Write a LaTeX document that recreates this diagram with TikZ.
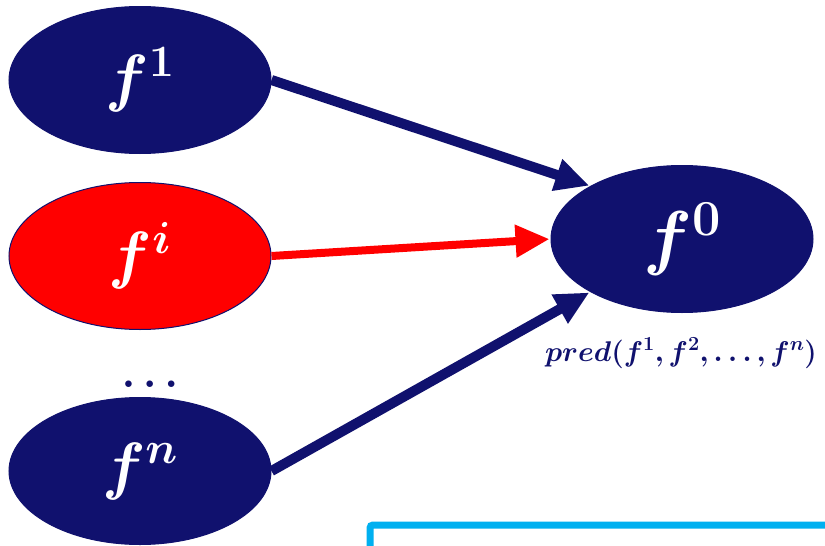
\documentclass[tikz,border=0pt]{standalone}
\usepackage{fix-cm}
\usepackage{bm}
\usetikzlibrary{shapes.geometric,arrows.meta}
\definecolor{navy}{RGB}{16,17,110}
\definecolor{skyline}{RGB}{0,176,240}
\tikzset{
  feat/.style={ellipse,fill=navy,draw=navy,line width=1pt,minimum width=262pt,minimum height=147pt,inner sep=0pt,text=white,font=\fontsize{64}{66}\selectfont},
  link/.style={navy,line width=10pt,-{Triangle[length=34pt,width=31pt]},shorten >=1pt}
}
\begin{document}
\begin{tikzpicture}[x=1pt,y=-1pt]
\clip(0,0)rectangle(825,546);
\fill[white](0,0)rectangle(825,546);
\node[feat](f1)at(140,80){$\bm{f^1}$};
\node[feat,fill=red](fi)at(140,256){$\bm{f^i}$};
\node[feat](fn)at(140,471){$\bm{f^n}$};
\node[feat,font=\fontsize{72}{74}\selectfont](f0)at(682,239){$\bm{f^0}$};
\node[navy,font=\fontsize{28.5}{30}\selectfont](pred)at(681,353){$\bm{pred(f^1,f^2,\ldots,f^n)}$};
\node[navy,font=\fontsize{42}{42}\selectfont](dots)at(150,384){$\bm{\ldots}$};
\draw[link](f1.east)--(f0.150);
\draw[link,red,line width=8pt](fi.east)--(f0.west);
\draw[link](fn.east)--(f0.210);
\draw[skyline,line width=7pt,rounded corners=3pt](370,525)rectangle(860,600);
\end{tikzpicture}
\end{document}
